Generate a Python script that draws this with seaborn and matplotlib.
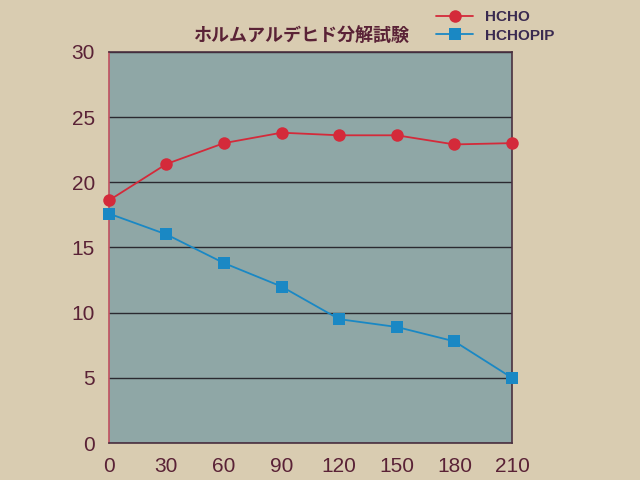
import numpy as np
import pandas as pd
import seaborn as sns
import matplotlib.pyplot as plt

minutes = [0, 30, 60, 90, 120, 150, 180, 210]
hcho = [18.6, 21.4, 23.0, 23.8, 23.6, 23.6, 22.9, 23.0]
hchopip = [17.6, 16.0, 13.8, 12.0, 9.5, 8.9, 7.8, 5.0]
x_ticks = [0, 30, 60, 90, 120, 150, 180, 210]
y_ticks = [0, 5, 10, 15, 20, 25, 30]
title = "ホルムアルデヒド分解試験"

df = pd.DataFrame({
    'minutes': minutes * 2,
    'value': hcho + hchopip,
    'series': ['HCHO'] * len(hcho) + ['HCHOPIP'] * len(hchopip),
})

sns.set_theme(style='white')
plt.rcParams['font.family'] = ['Liberation Sans', 'Noto Sans CJK JP', 'DejaVu Sans']

text_col = '#5a2236'
fig = plt.figure(figsize=(6.4, 4.8), dpi=100, facecolor='#d9ccb1')
ax = fig.add_axes([0.17, 0.077, 0.63, 0.815])
ax.set_facecolor('#8fa7a6')

g = sns.lineplot(data=df, x='minutes', y='value', hue='series', style='series',
                 palette={'HCHO': '#d42a3a', 'HCHOPIP': '#1a88c4'},
                 markers={'HCHO': 'o', 'HCHOPIP': 's'}, dashes=False,
                 markersize=9, linewidth=1.3, markeredgewidth=0, ax=ax)
for ln in ax.lines:
    ln.set_clip_on(False)
    ln.set_zorder(5)

ax.set_xlim(0, 210)
ax.set_ylim(0, 30)
ax.set_xticks(x_ticks)
ax.set_yticks(y_ticks)
ax.yaxis.grid(True, color='#2a2a30', linewidth=1.0)
ax.set_xlabel('')
ax.set_ylabel('')
ax.tick_params(axis='both', labelsize=15, colors=text_col, length=0, pad=10)
ax.tick_params(axis='x', direction='in', length=4, color='#4a3040')
for s in ax.spines.values():
    s.set_color('#4a3040')
    s.set_linewidth(1.2)
ax.spines['left'].set_color('#c05060')

fig.text(0.47, 0.905, title, fontsize=13, fontweight='bold', color=text_col,
         ha='center', va='bottom', family=['Noto Sans CJK JP', 'DejaVu Sans'])

leg = ax.legend(loc='lower left', bbox_to_anchor=(0.79, 1.0), frameon=False,
                fontsize=11, handlelength=2.4, borderaxespad=0.2, labelspacing=0.3)
for t in leg.get_texts():
    t.set_color('#3a2a50')
    t.set_fontweight('bold')

plt.savefig('out.png', dpi=100, facecolor=fig.get_facecolor())
